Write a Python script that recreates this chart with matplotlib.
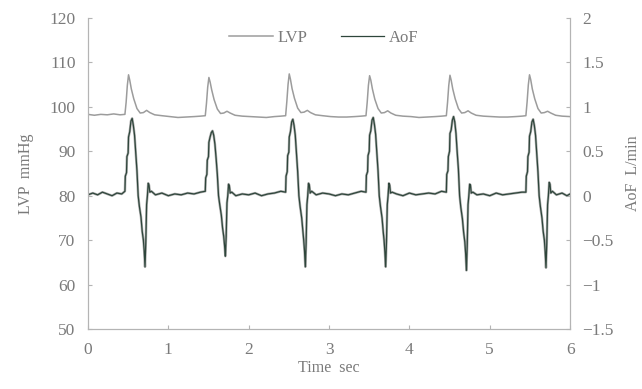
import matplotlib.pyplot as plt

# ------------------------------------------------------------
# data (time in sec)
# ------------------------------------------------------------

lvp_t = [
    0.00, 0.08, 0.16, 0.24, 0.32, 0.40, 0.46, 0.475, 0.49, 0.505, 0.52, 0.54, 0.57, 0.61, 0.65, 0.69, 0.73, 0.77, 0.83, 0.92, 1.02, 1.12, 1.22, 1.32, 1.40,
    1.46, 1.475, 1.49, 1.505, 1.52, 1.54, 1.57, 1.61, 1.65, 1.69, 1.73, 1.77, 1.83, 1.92, 2.02, 2.12, 2.22, 2.32, 2.40,
    2.46, 2.475, 2.49, 2.505, 2.52, 2.54, 2.57, 2.61, 2.65, 2.69, 2.73, 2.77, 2.83, 2.92, 3.02, 3.12, 3.22, 3.32, 3.40,
    3.46, 3.475, 3.49, 3.505, 3.52, 3.54, 3.57, 3.61, 3.65, 3.69, 3.73, 3.77, 3.83, 3.92, 4.02, 4.12, 4.22, 4.32, 4.40,
    4.46, 4.475, 4.49, 4.505, 4.52, 4.54, 4.57, 4.61, 4.65, 4.69, 4.73, 4.77, 4.83, 4.92, 5.02, 5.12, 5.22, 5.32, 5.40,
    5.45, 5.465, 5.48, 5.495, 5.51, 5.53, 5.56, 5.60, 5.64, 5.68, 5.72, 5.76, 5.82, 5.90, 6.00,
]
lvp_v = [
    98.3, 98.1, 98.3, 98.2, 98.4, 98.2, 98.3, 101.0, 104.8, 107.2, 106.0, 104.0, 101.8, 99.6, 98.6, 98.7, 99.2, 98.7, 98.2, 98.0, 97.8, 97.6, 97.7, 97.8, 97.9,
    98.0, 100.8, 104.4, 106.6, 105.6, 103.8, 101.6, 99.5, 98.5, 98.6, 99.0, 98.6, 98.1, 97.9, 97.8, 97.7, 97.6, 97.8, 97.9,
    98.0, 101.2, 105.0, 107.4, 106.2, 104.1, 101.9, 99.7, 98.7, 98.8, 99.2, 98.7, 98.2, 98.0, 97.8, 97.7, 97.7, 97.8, 97.9,
    98.0, 101.0, 104.8, 107.0, 106.0, 104.0, 101.7, 99.6, 98.6, 98.7, 99.1, 98.6, 98.1, 97.9, 97.8, 97.6, 97.7, 97.8, 97.9,
    98.0, 101.0, 104.8, 107.1, 106.0, 104.0, 101.8, 99.6, 98.6, 98.7, 99.1, 98.6, 98.1, 97.9, 97.8, 97.7, 97.7, 97.8, 97.9,
    98.0, 101.1, 104.9, 107.2, 106.1, 104.0, 101.8, 99.6, 98.6, 98.7, 99.0, 98.6, 98.1, 97.9, 97.8,
]

aof_t = [
    0.00, 0.06, 0.12, 0.18, 0.24, 0.30, 0.36, 0.42, 0.46, 0.465, 0.48, 0.485, 0.50, 0.505, 0.52, 0.535, 0.55, 0.565, 0.58, 0.595, 0.61, 0.625, 0.64, 0.66, 0.675, 0.69, 0.70, 0.71, 0.72, 0.73, 0.74, 0.75, 0.76, 0.77, 0.79, 0.84, 0.92, 1.00, 1.08, 1.16, 1.24, 1.32, 1.40,
    1.46, 1.465, 1.48, 1.485, 1.50, 1.505, 1.52, 1.535, 1.55, 1.565, 1.58, 1.595, 1.61, 1.625, 1.64, 1.66, 1.675, 1.69, 1.70, 1.71, 1.72, 1.73, 1.74, 1.75, 1.76, 1.77, 1.79, 1.84, 1.92, 2.00, 2.08, 2.16, 2.24, 2.32, 2.40,
    2.46, 2.465, 2.48, 2.485, 2.50, 2.505, 2.52, 2.535, 2.55, 2.565, 2.58, 2.595, 2.61, 2.625, 2.64, 2.66, 2.675, 2.685, 2.695, 2.705, 2.715, 2.725, 2.735, 2.745, 2.755, 2.765, 2.785, 2.84, 2.92, 3.00, 3.08, 3.16, 3.24, 3.32, 3.40,
    3.46, 3.465, 3.48, 3.485, 3.50, 3.505, 3.52, 3.535, 3.55, 3.565, 3.58, 3.595, 3.61, 3.625, 3.64, 3.66, 3.675, 3.685, 3.695, 3.705, 3.715, 3.725, 3.735, 3.745, 3.755, 3.765, 3.785, 3.84, 3.92, 4.00, 4.08, 4.16, 4.24, 4.32, 4.40,
    4.46, 4.465, 4.48, 4.485, 4.50, 4.505, 4.52, 4.535, 4.55, 4.565, 4.58, 4.595, 4.61, 4.625, 4.64, 4.66, 4.675, 4.69, 4.70, 4.71, 4.72, 4.73, 4.74, 4.75, 4.76, 4.77, 4.79, 4.84, 4.92, 5.00, 5.08, 5.16, 5.24, 5.32, 5.40,
    5.45, 5.455, 5.47, 5.475, 5.49, 5.495, 5.51, 5.525, 5.54, 5.555, 5.57, 5.585, 5.60, 5.615, 5.63, 5.65, 5.665, 5.68, 5.69, 5.70, 5.71, 5.72, 5.73, 5.74, 5.75, 5.76, 5.78, 5.83, 5.90, 5.96, 6.00,
]
aof_v = [
    0.01, 0.03, 0.01, 0.04, 0.02, 0.00, 0.03, 0.02, 0.05, 0.22, 0.26, 0.44, 0.48, 0.66, 0.72, 0.84, 0.87, 0.79, 0.68, 0.48, 0.28, 0.00, -0.12, -0.24, -0.40, -0.50, -0.62, -0.80, -0.52, -0.10, 0.00, 0.14, 0.12, 0.04, 0.05, 0.01, 0.03, 0.00, 0.02, 0.01, 0.03, 0.02, 0.04,
    0.05, 0.20, 0.24, 0.40, 0.44, 0.60, 0.66, 0.71, 0.73, 0.68, 0.58, 0.42, 0.24, 0.00, -0.10, -0.22, -0.36, -0.46, -0.56, -0.68, -0.46, -0.08, 0.00, 0.13, 0.11, 0.03, 0.04, 0.00, 0.02, 0.01, 0.03, 0.00, 0.02, 0.03, 0.05,
    0.04, 0.22, 0.27, 0.45, 0.49, 0.66, 0.72, 0.83, 0.86, 0.79, 0.68, 0.47, 0.27, 0.00, -0.12, -0.25, -0.40, -0.50, -0.62, -0.80, -0.53, -0.10, 0.00, 0.14, 0.12, 0.03, 0.05, 0.01, 0.03, 0.02, 0.00, 0.02, 0.01, 0.03, 0.05,
    0.04, 0.23, 0.27, 0.45, 0.50, 0.68, 0.73, 0.85, 0.88, 0.80, 0.69, 0.48, 0.28, 0.00, -0.12, -0.25, -0.41, -0.50, -0.63, -0.80, -0.52, -0.10, 0.00, 0.14, 0.12, 0.03, 0.04, 0.02, 0.00, 0.03, 0.01, 0.02, 0.03, 0.02, 0.05,
    0.04, 0.24, 0.28, 0.44, 0.50, 0.70, 0.74, 0.85, 0.89, 0.83, 0.70, 0.49, 0.30, 0.00, -0.13, -0.26, -0.41, -0.52, -0.65, -0.84, -0.55, -0.10, 0.00, 0.13, 0.12, 0.03, 0.04, 0.01, 0.02, 0.00, 0.03, 0.01, 0.02, 0.03, 0.04,
    0.04, 0.22, 0.27, 0.44, 0.49, 0.67, 0.72, 0.83, 0.86, 0.79, 0.68, 0.47, 0.27, 0.00, -0.12, -0.25, -0.40, -0.50, -0.63, -0.81, -0.53, -0.10, 0.00, 0.15, 0.13, 0.03, 0.05, 0.01, 0.03, 0.00, 0.02,
]

x_ticks = [0, 1, 2, 3, 4, 5, 6]
lvp_ticks = [50, 60, 70, 80, 90, 100, 110, 120]
aof_ticks = [-1.5, -1, -0.5, 0, 0.5, 1, 1.5, 2]
aof_labels = ["\u22121.5", "\u22121", "\u22120.5", "0", "0.5", "1", "1.5", "2"]

# ============================================================
# PLOT
# ============================================================

plt.rcParams["font.family"] = ["Liberation Serif", "DejaVu Serif"]
txt = "#7a7a7a"
spine = "#b4b4b4"

fig = plt.figure(figsize=(6.42, 3.89), dpi=100)
ax = fig.add_axes([0.137, 0.154, 0.751, 0.80])
ax2 = ax.twinx()

l1, = ax.plot(lvp_t, lvp_v, color="#9c9c9c", lw=1.1)
# grey halo + dark core, like the scanned trace
ax2.plot(aof_t, aof_v, color="#b0b0b0", lw=1.8)
l2, = ax2.plot(aof_t, aof_v, color="#2e463b", lw=0.9)

ax.set_xlim(0, 6)
ax.set_ylim(50, 120)
ax2.set_ylim(-1.5, 2)
ax.set_xticks(x_ticks)
ax.set_yticks(lvp_ticks)
ax2.set_yticks(aof_ticks)
ax2.set_yticklabels(aof_labels)

for a in (ax, ax2):
    a.spines["top"].set_visible(False)
    for s in ("left", "right", "bottom"):
        a.spines[s].set_color(spine)
    a.tick_params(direction="in", length=3, color=spine, labelcolor=txt,
                  labelsize=12.5, pad=9)

ax.set_ylabel("LVP  mmHg", color=txt, fontsize=11.5, labelpad=11)
ax2.set_ylabel("AoF  L/min", color=txt, fontsize=11.5, labelpad=8)
ax.set_xlabel("Time  sec", color=txt, fontsize=11.5, labelpad=2)

leg = ax.legend([l1, l2], ["LVP", "AoF"], loc="upper center",
                bbox_to_anchor=(0.49, 1.01), ncol=2, frameon=False,
                fontsize=12, handlelength=2.6, handletextpad=0.3,
                columnspacing=2.0)
for t in leg.get_texts():
    t.set_color(txt)

fig.savefig("out.png", dpi=100)
